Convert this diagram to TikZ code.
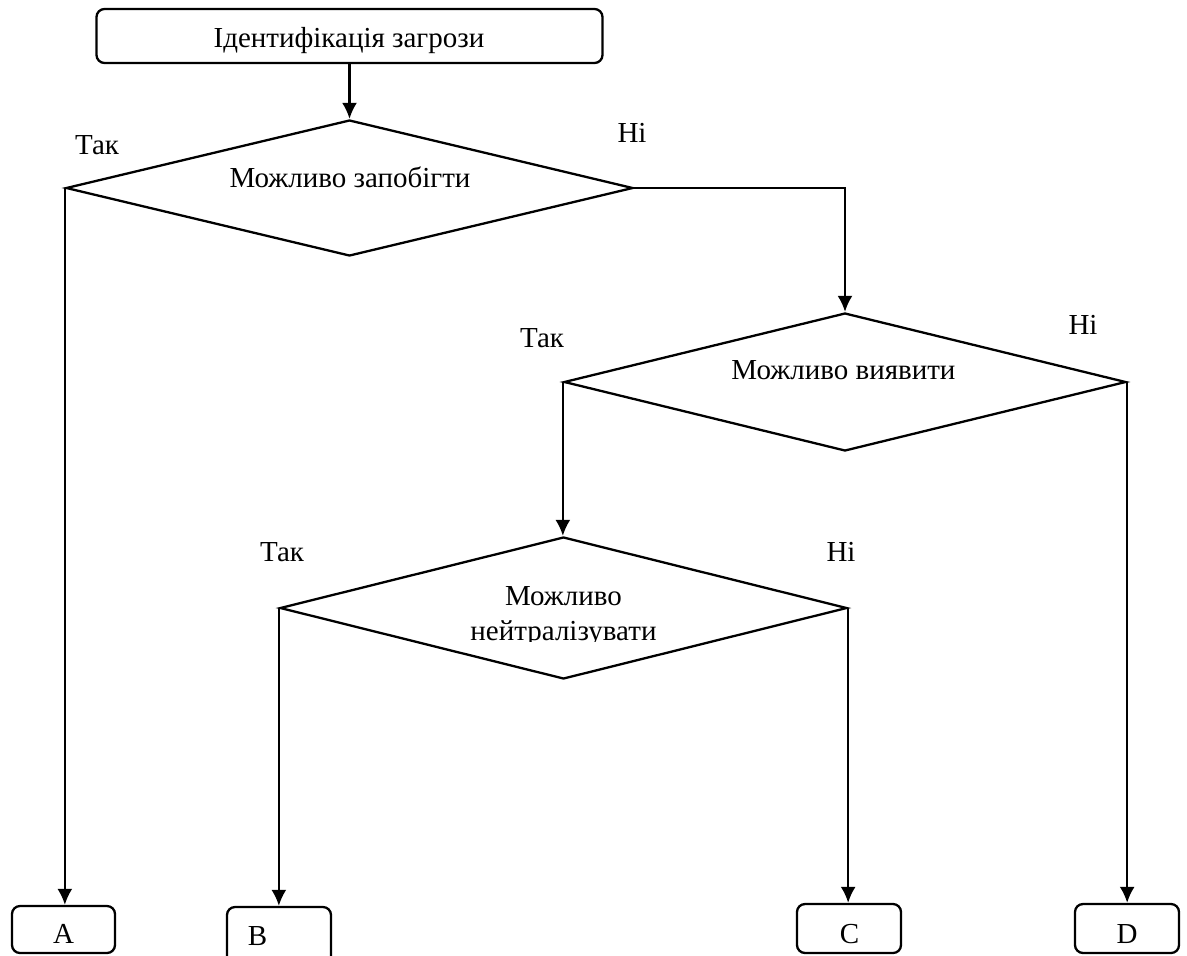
\documentclass[tikz,border=0pt]{standalone}
\usepackage{fontspec}
\setmainfont{Liberation Serif}
\usetikzlibrary{shapes.geometric,arrows.meta}

\tikzset{
  base line/.style={line width=1.15pt, line join=miter},
  flow/.style={base line, -{Latex[length=8pt,width=7.5pt]}},
  termbox/.style={base line, draw, rectangle, rounded corners=4pt, inner sep=0pt},
  decision/.style={base line, draw, diamond, inner sep=0pt},
  caption/.style={font=\fontsize{14.5pt}{16.5pt}\selectfont, inner sep=0pt},
}

\begin{document}
\begin{tikzpicture}[x=0.5pt, y=-0.5pt]
\useasboundingbox (0,0) rectangle (1187,955);

% start box
\node[termbox, minimum width=253pt, minimum height=27pt] (start) at (349.5,36) {};
\node[caption, anchor=base] (starttext) at (349,47) {Ідентифікація загрози};

% decisions
\node[decision, minimum width=283.5pt, minimum height=68pt] (d1) at (349.5,188) {};
\node[caption, anchor=base] (d1text) at (350,187) {Можливо запобігти};

\node[decision, minimum width=281pt, minimum height=69pt] (d2) at (845,382) {};
\node[caption, anchor=base] (d2text) at (843.5,379) {Можливо виявити};

\node[decision, minimum width=283.5pt, minimum height=71pt] (d3) at (563.5,608) {};
\node[caption, anchor=base] (d3text1) at (563.5,605) {Можливо};
\begin{scope}
  \clip (420,615) rectangle (710,641);
  \node[caption, anchor=base] (d3text2) at (563.5,640) {нейтралізувати};
\end{scope}

% outcomes
\node[termbox, minimum width=51.5pt, minimum height=23.5pt] (A) at (63.5,929.5) {};
\node[caption, anchor=base] (Atext) at (63.5,943) {A};
\node[termbox, minimum width=52pt, minimum height=30pt] (B) at (279,937) {};
\node[caption, anchor=base] (Btext) at (257.5,945) {B};
\node[termbox, minimum width=52pt, minimum height=24.5pt] (C) at (849,928.5) {};
\node[caption, anchor=base] (Ctext) at (849.5,943) {C};
\node[termbox, minimum width=52pt, minimum height=24.5pt] (D) at (1127,928.5) {};
\node[caption, anchor=base] (Dtext) at (1127,943) {D};

% branch labels
\node[caption] (yes1) at (97,145) {Так};
\node[caption] (no1) at (632,133) {Ні};
\node[caption] (yes2) at (542,338) {Так};
\node[caption] (no2) at (1083,325) {Ні};
\node[caption] (yes3) at (282,552) {Так};
\node[caption] (no3) at (841,552) {Ні};

% connectors
\draw[flow] (start.south) -- (d1.north);
\draw[flow] (d1.west) -- (d1.west |- A.north);
\draw[flow] (d1.east) -| (d2.north);
\draw[flow] (d2.west) -- (d2.west |- d3.north);
\draw[flow] (d2.east) -- (d2.east |- D.north);
\draw[flow] (d3.west) -- (d3.west |- B.north);
\draw[flow] (d3.east) -- (d3.east |- C.north);
\end{tikzpicture}
\end{document}
